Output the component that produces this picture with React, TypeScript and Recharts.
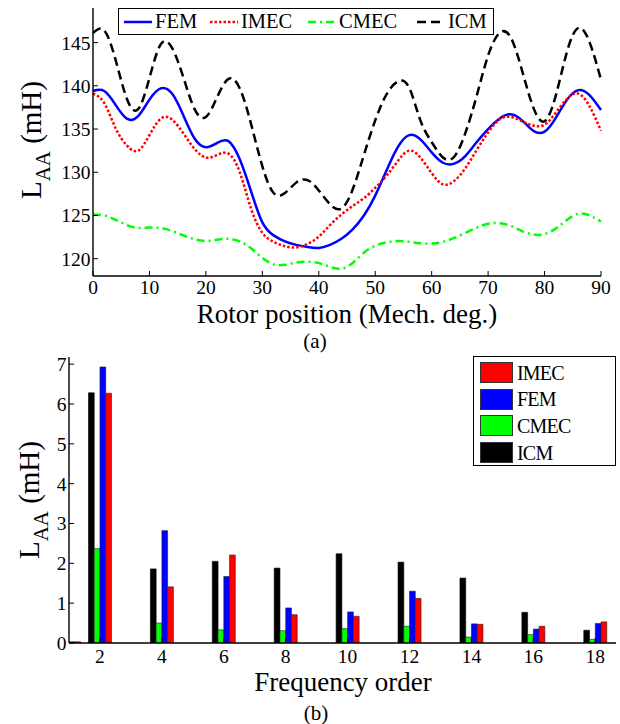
import { LineChart, Line, BarChart, Bar, XAxis, YAxis, Legend } from 'recharts';

const FONT = '"Liberation Serif", "Times New Roman", Times, Tinos, "Nimbus Roman", "DejaVu Serif", serif';

// (a) self inductance vs rotor position
const angles = [
  0, 2, 4, 6, 8, 10, 12, 14, 16, 18, 20, 22, 24, 26, 28, 30, 32, 34, 36, 38, 40, 42, 44,
  46, 48, 50, 52, 54, 56, 58, 60, 62, 64, 66, 68, 70, 72, 74, 76, 78, 80, 82, 84, 86, 88, 90,
];
const femL = [
  139.4, 139.4, 137.8, 136.2, 136.5, 138.4, 139.7, 139.1, 136.6, 133.9, 132.9, 133.4, 133.6,
  131.5, 127.8, 124.2, 122.7, 122.0, 121.6, 121.35, 121.25, 121.6, 122.3, 123.4, 125.0, 127.3,
  130.2, 132.9, 134.3, 133.8, 132.3, 131.1, 131.0, 131.9, 133.5, 135.0, 136.2, 136.7, 136.0,
  134.8, 134.7, 136.3, 138.4, 139.5, 138.9, 137.2,
];
const imecL = [
  139.1, 138.0, 135.1, 133.1, 132.5, 134.3, 136.2, 136.1, 134.5, 132.7, 131.7, 132.0, 132.15,
  130.0, 125.8, 123.0, 121.95, 121.45, 121.3, 121.7, 122.55, 123.9, 125.1, 126.1, 127.0, 128.2,
  129.6, 131.3, 132.5, 131.7, 129.9, 128.6, 129.0, 130.5, 132.6, 134.6, 136.1, 136.4, 135.9,
  135.4, 135.5, 136.9, 138.5, 139.1, 137.6, 134.8,
];
const cmecL = [
  125.1, 125.0, 124.5, 123.9, 123.55, 123.6, 123.55, 123.2, 122.7, 122.25, 122.05, 122.2, 122.3,
  122.0, 121.2, 120.1, 119.35, 119.3, 119.55, 119.65, 119.5, 119.05, 118.85, 119.5, 120.7, 121.5,
  121.9, 122.05, 121.95, 121.8, 121.75, 121.95, 122.4, 123.0, 123.6, 124.05, 124.1, 123.8, 123.2,
  122.8, 122.85, 123.5, 124.5, 125.2, 125.0, 124.3,
];
const icmL = [
  146.1, 146.4, 143.0, 138.5, 137.3, 140.9, 144.8, 144.4, 141.0, 137.3, 136.4, 138.7, 140.8,
  139.7, 135.6, 130.7, 127.6, 127.6, 128.8, 129.1, 127.9, 126.3, 125.8, 128.0, 132.0, 136.0,
  139.0, 140.5, 139.8, 136.0, 133.5, 131.7, 131.8, 134.6, 138.9, 143.5, 146.1, 145.6, 141.8,
  137.5, 135.9, 138.9, 144.0, 146.7, 145.0, 140.7,
];
const angleTicks = [0, 10, 20, 30, 40, 50, 60, 70, 80, 90];
const lTicks = [120, 125, 130, 135, 140, 145];

// (b) harmonic amplitudes
const orders = [1, 2, 4, 6, 8, 10, 12, 14, 16, 18];
const icmH = [0, 6.28, 1.86, 2.05, 1.88, 2.24, 2.03, 1.63, 0.77, 0.32];
const cmecH = [0, 2.37, 0.5, 0.33, 0.31, 0.36, 0.42, 0.15, 0.21, 0.09];
const femH = [0.03, 6.93, 2.82, 1.67, 0.88, 0.78, 1.3, 0.48, 0.35, 0.49];
const imecH = [0.03, 6.27, 1.41, 2.21, 0.71, 0.67, 1.12, 0.47, 0.42, 0.53];
const orderTicks = [2, 4, 6, 8, 10, 12, 14, 16, 18];
const hTicks = [0, 1, 2, 3, 4, 5, 6, 7];

const lineData = angles.map((deg, i) => ({
  deg,
  fem: femL[i],
  imec: imecL[i],
  cmec: cmecL[i],
  icm: icmL[i],
}));
const barData = orders.map((order, i) => ({
  order,
  icm: icmH[i],
  cmec: cmecH[i],
  fem: femH[i],
  imec: imecH[i],
}));

const lineStyles = [
  { key: 'fem', name: 'FEM', color: '#0000ff', dash: undefined as string | undefined, x: 5 },
  { key: 'imec', name: 'IMEC', color: '#ff0000', dash: '2.5 2', x: 91 },
  { key: 'cmec', name: 'CMEC', color: '#00ff00', dash: '8 4 2 4', x: 189 },
  { key: 'icm', name: 'ICM', color: '#000000', dash: '9 5', x: 298 },
];
const barStyles = [
  { name: 'IMEC', color: '#ff0000' },
  { name: 'FEM', color: '#0000ff' },
  { name: 'CMEC', color: '#00ff00' },
  { name: 'ICM', color: '#000000' },
];

const tickFont = { fill: '#000', fontSize: 19.5, fontFamily: FONT };
const axisLine = { stroke: '#000', strokeWidth: 1.4 };
const tickLine = { stroke: '#000', strokeWidth: 1 };
const blank = () => '';

function TopLegend() {
  return (
    <div
      style={{
        position: 'relative',
        boxSizing: 'border-box',
        width: 376,
        height: 27,
        border: '1.3px solid #000',
        background: '#fff',
        fontFamily: FONT,
        fontSize: 20.5,
        lineHeight: 1,
        color: '#000',
      }}
    >
      {lineStyles.map((s) => (
        <div key={s.key} style={{ position: 'absolute', left: s.x, top: 0, height: 25, display: 'flex', alignItems: 'center' }}>
          <svg width={28} height={6} style={{ display: 'block' }}>
            <line x1={0} y1={3} x2={28} y2={3} stroke={s.color} strokeWidth={2.5} strokeDasharray={s.dash} />
          </svg>
          <span style={{ marginLeft: 3 }}>{s.name}</span>
        </div>
      ))}
    </div>
  );
}

function BottomLegend() {
  return (
    <div
      style={{
        position: 'relative',
        boxSizing: 'border-box',
        width: 143,
        height: 110,
        border: '1.3px solid #000',
        background: '#fff',
        fontFamily: FONT,
        fontSize: 20,
        lineHeight: 1,
        color: '#000',
      }}
    >
      {barStyles.map((s, i) => (
        <div key={s.name} style={{ position: 'absolute', left: 6, top: 4 + i * 26.7, height: 23, display: 'flex', alignItems: 'center' }}>
          <div style={{ width: 33, height: 21, boxSizing: 'border-box', background: s.color, border: '1px solid #333' }} />
          <span style={{ marginLeft: 4, letterSpacing: -0.8 }}>{s.name}</span>
        </div>
      ))}
    </div>
  );
}

function YLabel({ cx, cy }: { cx: number; cy: number }) {
  return (
    <div
      style={{
        position: 'absolute',
        left: cx,
        top: cy,
        transform: 'translate(-50%, -50%) rotate(-90deg)',
        whiteSpace: 'nowrap',
        fontFamily: FONT,
        fontSize: 29,
        lineHeight: 1,
        color: '#000',
      }}
    >
      L<span style={{ fontSize: '0.72em', position: 'relative', top: '0.42em' }}>AA</span> (mH)
    </div>
  );
}

function Caption({ cx, top, size, text }: { cx: number; top: number; size: number; text: string }) {
  return (
    <div
      style={{
        position: 'absolute',
        left: cx,
        top,
        transform: 'translateX(-50%)',
        whiteSpace: 'nowrap',
        fontFamily: FONT,
        fontSize: size,
        lineHeight: 0.68,
        color: '#000',
      }}
    >
      {text}
    </div>
  );
}

export default function App() {
  return (
    <div style={{ position: 'absolute', left: 0, top: 0, width: 620, height: 724, background: '#fff', overflow: 'hidden' }}>
      <div style={{ position: 'absolute', left: 0, top: 0 }}>
        <LineChart width={620} height={300} data={lineData} margin={{ top: 8, right: 19, bottom: 0, left: 0 }}>
          <XAxis
            dataKey="deg"
            type="number"
            domain={[0, 90]}
            ticks={angleTicks}
            interval={0}
            height={24}
            tick={tickFont}
            tickSize={-5}
            tickMargin={9.5}
            axisLine={axisLine}
            tickLine={tickLine}
          />
          <XAxis
            xAxisId="top"
            orientation="top"
            dataKey="deg"
            type="number"
            domain={[0, 90]}
            ticks={angleTicks}
            interval={0}
            height={0}
            tickFormatter={blank}
            tickSize={-5}
            axisLine={axisLine}
            tickLine={tickLine}
          />
          <YAxis
            type="number"
            domain={[118, 149]}
            ticks={lTicks}
            interval={0}
            width={93}
            tick={tickFont}
            tickSize={-5}
            tickMargin={7.6}
            axisLine={axisLine}
            tickLine={tickLine}
            allowDataOverflow
          />
          <YAxis
            yAxisId="right"
            orientation="right"
            type="number"
            domain={[118, 149]}
            ticks={lTicks}
            interval={0}
            width={0}
            tickFormatter={blank}
            tickSize={-5}
            axisLine={axisLine}
            tickLine={tickLine}
            allowDataOverflow
          />
          {lineStyles.map((s) => (
            <Line
              key={s.key}
              type="natural"
              dataKey={s.key}
              name={s.name}
              stroke={s.color}
              strokeWidth={2.5}
              strokeDasharray={s.dash}
              dot={false}
              activeDot={false}
              isAnimationActive={false}
            />
          ))}
          <Legend
            layout="horizontal"
            align="center"
            verticalAlign="middle"
            wrapperStyle={{ left: 118, top: 8, width: 376, height: 27 }}
            content={() => <TopLegend />}
          />
        </LineChart>
      </div>
      <YLabel cx={31} cy={140} />
      <Caption cx={347} top={304.6} size={27} text="Rotor position (Mech. deg.)" />
      <Caption cx={315} top={333.8} size={21} text="(a)" />

      <div style={{ position: 'absolute', left: 0, top: 340 }}>
        <BarChart width={620} height={330} data={barData} barGap={0} margin={{ top: 17, right: 4, bottom: 0, left: 0 }}>
          <XAxis
            dataKey="order"
            type="number"
            domain={[1, 18.67]}
            ticks={orderTicks}
            interval={0}
            height={27}
            tick={tickFont}
            tickSize={-5}
            tickMargin={11}
            axisLine={axisLine}
            tickLine={tickLine}
            allowDataOverflow
          />
          <XAxis
            xAxisId="top"
            orientation="top"
            dataKey="order"
            type="number"
            domain={[1, 18.67]}
            ticks={orderTicks}
            interval={0}
            height={0}
            tickFormatter={blank}
            tickSize={-5}
            axisLine={axisLine}
            tickLine={tickLine}
            allowDataOverflow
          />
          <YAxis
            type="number"
            domain={[0, 7.18]}
            ticks={hTicks}
            interval={0}
            width={69}
            tick={tickFont}
            tickSize={-5}
            tickMargin={7.6}
            axisLine={axisLine}
            tickLine={tickLine}
            allowDataOverflow
          />
          <YAxis
            yAxisId="right"
            orientation="right"
            type="number"
            domain={[0, 7.18]}
            ticks={hTicks}
            interval={0}
            width={0}
            tickFormatter={blank}
            tickSize={-5}
            axisLine={axisLine}
            tickLine={tickLine}
            allowDataOverflow
          />
          <Bar dataKey="icm" name="ICM" fill="#000000" stroke="#000" strokeWidth={0.6} barSize={5.75} isAnimationActive={false} />
          <Bar dataKey="cmec" name="CMEC" fill="#00ff00" stroke="#222" strokeWidth={0.6} barSize={5.75} isAnimationActive={false} />
          <Bar dataKey="fem" name="FEM" fill="#0000ff" stroke="#222" strokeWidth={0.6} barSize={5.75} isAnimationActive={false} />
          <Bar dataKey="imec" name="IMEC" fill="#ff0000" stroke="#222" strokeWidth={0.6} barSize={5.75} isAnimationActive={false} />
          <Legend
            layout="vertical"
            align="center"
            verticalAlign="middle"
            wrapperStyle={{ left: 473, top: 16, width: 143, height: 110 }}
            content={() => <BottomLegend />}
          />
        </BarChart>
      </div>
      <YLabel cx={29} cy={500} />
      <Caption cx={343} top={673.2} size={27} text="Frequency order" />
      <Caption cx={316} top={705.6} size={21} text="(b)" />
    </div>
  );
}
